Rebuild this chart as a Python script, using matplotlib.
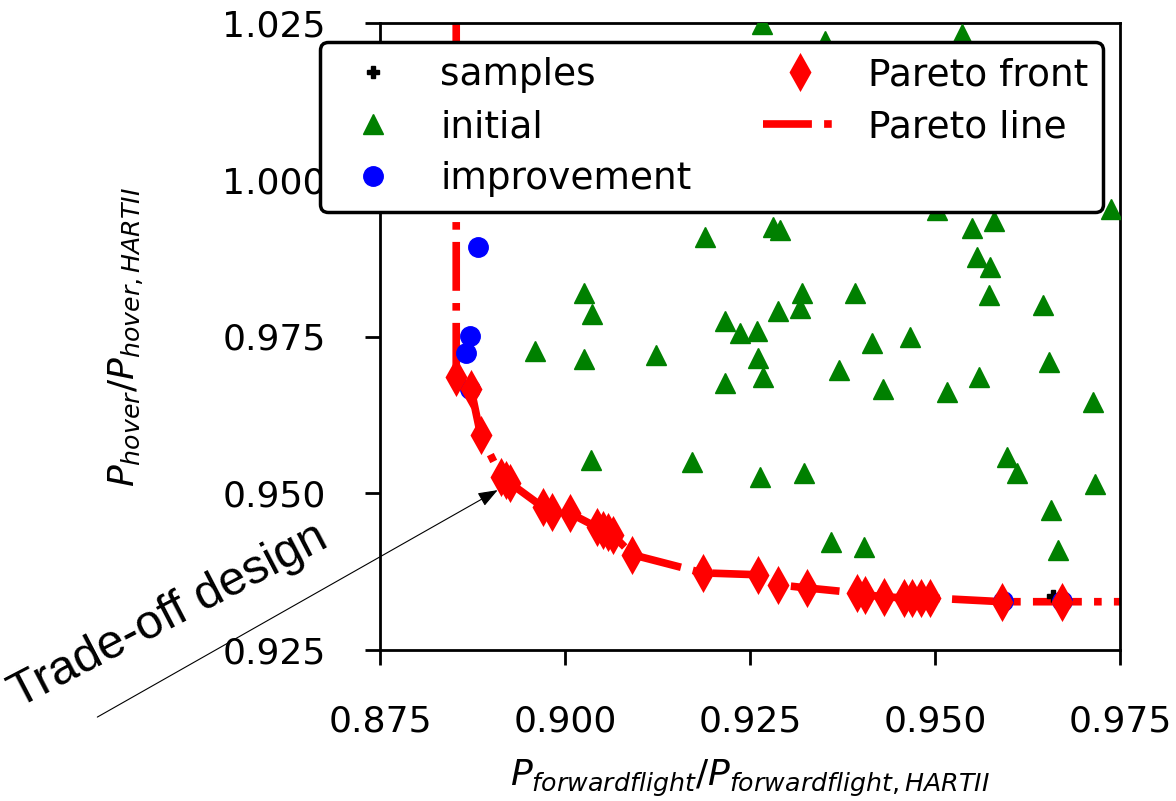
import matplotlib
matplotlib.use("Agg")
import matplotlib.pyplot as plt

# ---- data -------------------------------------------------------------
# initial designs (green triangles)
initial_x = [0.9266, 0.9351, 0.9536, 0.9189, 0.9281, 0.9291, 0.9503, 0.9738,
             0.9550, 0.9580, 0.9557, 0.9574, 0.9573, 0.9646, 0.9026, 0.9036,
             0.8959, 0.9026, 0.9123, 0.9216, 0.9236, 0.9259, 0.9288, 0.9320,
             0.9318, 0.9392, 0.9415, 0.9261, 0.9268, 0.9216, 0.9370, 0.9430,
             0.9466, 0.9516, 0.9559, 0.9654, 0.9714, 0.9035, 0.9172, 0.9264,
             0.9323, 0.9597, 0.9611, 0.9716, 0.9657, 0.9359, 0.9404, 0.9666]
initial_y = [1.0249, 1.0222, 1.0233, 0.9909, 0.9925, 0.9920, 0.9952, 0.9953,
             0.9923, 0.9934, 0.9877, 0.9861, 0.9816, 0.9800, 0.9819, 0.9786,
             0.9727, 0.9714, 0.9720, 0.9775, 0.9756, 0.9759, 0.9791, 0.9819,
             0.9795, 0.9819, 0.9740, 0.9716, 0.9685, 0.9676, 0.9697, 0.9666,
             0.9749, 0.9661, 0.9685, 0.9709, 0.9646, 0.9553, 0.9550, 0.9526,
             0.9532, 0.9558, 0.9532, 0.9515, 0.9473, 0.9422, 0.9414, 0.9409]

# infill / improvement designs (blue circles)
improve_x = [0.8882, 0.8872, 0.8866, 0.8872, 0.9592, 0.9672]
improve_y = [0.9893, 0.9751, 0.9724, 0.9666, 0.9328, 0.9328]

# all evaluated samples (mostly hidden beneath the other markers)
samples_x = [0.9659, 0.8872, 0.9592]
samples_y = [0.9336, 0.9666, 0.9328]

# non-dominated designs (red diamonds)
front_x = [0.8853, 0.8873, 0.8886, 0.8914, 0.8920, 0.8926, 0.8970, 0.8982,
           0.9007, 0.9043, 0.9051, 0.9058, 0.9065, 0.9091, 0.9186, 0.9261,
           0.9288, 0.9327, 0.9395, 0.9405, 0.9431, 0.9458, 0.9469, 0.9481,
           0.9493, 0.9591, 0.9672]
front_y = [0.9685, 0.9666, 0.9593, 0.9526, 0.9521, 0.9516, 0.9478, 0.9470,
           0.9468, 0.9446, 0.9441, 0.9438, 0.9433, 0.9402, 0.9373, 0.9370,
           0.9354, 0.9349, 0.9341, 0.9338, 0.9335, 0.9333, 0.9333, 0.9333,
           0.9333, 0.9327, 0.9327]

# Pareto line: front extended vertically upward and horizontally rightward
line_x = [front_x[0]] + front_x + [0.985]
line_y = [1.035] + front_y + [front_y[-1]]

# trade-off design highlighted by the annotation
tradeoff = (0.8909, 0.9505)
tradeoff_text_from = (0.8368, 0.9143)

xticks = [0.875, 0.900, 0.925, 0.950, 0.975]
yticks = [0.925, 0.950, 0.975, 1.000, 1.025]

# ---- figure -----------------------------------------------------------
plt.rcParams["font.family"] = ["DejaVu Sans"]
plt.rcParams["mathtext.fontset"] = "dejavusans"

fig = plt.figure(figsize=(11.76, 8.01), dpi=100)
ax = fig.add_axes([380 / 1176, 1 - 650 / 801, 740 / 1176, 627 / 801])

l_line, = ax.plot(line_x, line_y, color="red", linestyle="-.", linewidth=5.5,
                  zorder=2, label="Pareto line")
l_samp, = ax.plot(samples_x, samples_y, linestyle="none", marker="P",
                  markersize=8, color="black", zorder=3, label="samples")
l_init, = ax.plot(initial_x, initial_y, linestyle="none", marker="^",
                  markersize=14, color="green", zorder=3, label="initial")
l_imp, = ax.plot(improve_x, improve_y, linestyle="none", marker="o",
                 markersize=14, color="blue", zorder=4, label="improvement")
l_front, = ax.plot(front_x, front_y, linestyle="none", marker="d",
                   markersize=16, markeredgewidth=2.5, color="red", zorder=5,
                   label="Pareto front")

ax.set_xlim(0.875, 0.975)
ax.set_ylim(0.925, 1.025)
ax.set_xticks(xticks)
ax.set_yticks(yticks)
ax.set_xticklabels([f"{v:.3f}" for v in xticks])
ax.set_yticklabels([f"{v:.3f}" for v in yticks])
ax.tick_params(axis="both", which="major", labelsize=26, length=11,
               width=2, pad=28, direction="out")
for sp in ax.spines.values():
    sp.set_linewidth(2)

ax.set_xlabel(r"$P_{forwardflight}/P_{forwardflight,HARTII}$", fontsize=26)
ax.set_ylabel(r"$P_{hover}/P_{hover,HARTII}$", fontsize=26)
ax.xaxis.set_label_coords(0.5, -0.172)
ax.yaxis.set_label_coords(-0.316, 0.5)

leg = ax.legend([l_samp, l_init, l_imp, l_front, l_line],
                ["samples", "initial", "improvement", "Pareto front", "Pareto line"],
                ncol=2, loc="upper left", bbox_to_anchor=(-0.081, 0.969),
                borderaxespad=0, fontsize=27, labelspacing=0.42,
                columnspacing=1.9, fancybox=True, framealpha=1,
                edgecolor="black")
leg.get_frame().set_linewidth(2.5)

ax.annotate("", xy=tradeoff, xytext=tradeoff_text_from, textcoords="data",
            annotation_clip=False,
            arrowprops=dict(arrowstyle="-|>,head_length=0.8,head_width=0.3",
                            mutation_scale=15, color="black", lw=0.8,
                            shrinkA=0, shrinkB=0))

fig.text(18 / 1176, 1 - 708 / 801, "Trade-off design", fontsize=35,
         family=["Liberation Sans", "DejaVu Sans"], rotation=27.5,
         rotation_mode="anchor", ha="left", va="baseline")

fig.savefig("out.png", dpi=100)
